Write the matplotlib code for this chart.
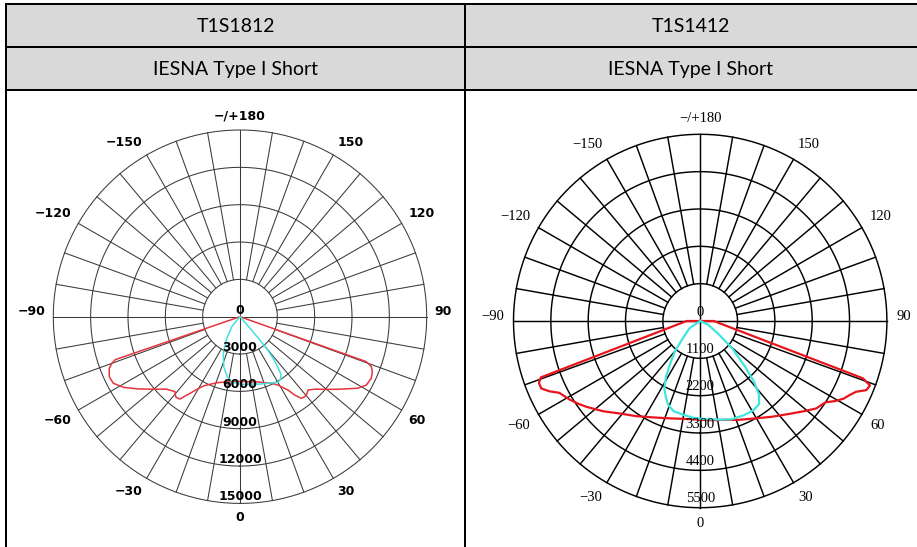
import numpy as np
import matplotlib
matplotlib.use("Agg")
import matplotlib.pyplot as plt
from matplotlib.patches import Rectangle
from matplotlib.lines import Line2D
from matplotlib.transforms import offset_copy

# ---------------- data ----------------
titles = ["T1S1812", "T1S1412"]
subtitles = ["IESNA Type I Short", "IESNA Type I Short"]

angle_ticks = [0, 30, 60, 90, 120, 150, 180, -150, -120, -90, -60, -30]
angle_labels = ["0", "30", "60", "90", "120", "150", "\u2212/+180",
                "\u2212150", "\u2212120", "\u221290", "\u221260", "\u221230"]

# chart 1 : T1S1812
rings1 = [3000, 6000, 9000, 12000, 15000]
red1_deg = [-90, -72, -71.0, -70.0, -68.5, -65.3, -62.3, -58.8, -54.5, -50.1, -45.5,
            -40.9, -39.5, -38.4, -36.1, -34.5, -33.1, -30.5, -27.9, -24, -19.4, -14,
            -8.7, 0, 5, 9.9, 15, 20.5, 25, 29.1, 31, 33.2, 34.9, 36.9, 38.5, 40.3,
            42.9, 46, 50, 53.5, 58.8, 61.6, 64.9, 67.4, 69.2, 70.4, 72, 90]
red1_val = [0, 0, 10600, 10950, 11290, 11560, 11500, 10960, 10000, 9085, 8300,
            7975, 8150, 8275, 8185, 7700, 7355, 6750, 6300, 5950, 5625, 5420,
            5285, 5200, 5230, 5300, 5420, 5665, 5900, 6285, 6630, 7040, 7675, 8200, 8260, 8245,
            8040, 8380, 9080, 9800, 11090, 11540, 11650, 11515, 11290, 10770, 0, 0]
cyan1_deg = [-90, -40, -31, -24.5, -18, -12, -7.3, 0, 5.6, 12.3, 16.5, 22.8, 27, 30,
             33, 35.5, 37, 38.5, 40, 40.5, 41, 90]
cyan1_val = [0, 1000, 2100, 3230, 4230, 4930, 5265, 5420, 5470, 5540, 5650, 5800, 5960, 6080,
             6000, 5650, 5000, 4300, 3300, 2200, 1000, 0]

# chart 2 : T1S1412
rings2 = [1100, 2200, 3300, 4400, 5500]
red2_deg = [-180, -90, -70.5, -69, -67, -65, -63, -61, -59, -56, -53, -47, -41, -34, -26,
            -17, -8, 0, 6, 13, 21, 30, 37, 44, 49, 53, 57, 59.3, 61.5, 63.6, 65.6, 67.4,
            69.2, 70.6, 90, 180]
red2_val = [0, 400, 4980, 5090, 5085, 4900, 4660, 4570, 4490, 4350, 4200, 3900, 3610, 3380, 3160,
            3000, 2915, 2910, 2940, 2990, 3120, 3310, 3530, 3800, 4050, 4280, 4400, 4620, 4800,
            4910, 5045, 5300, 5350, 5080, 400, 0]
cyan2_deg = [-90, -56, -45.5, -40, -35.5, -31.5, -28, -24.5, -21, -16.5, -11, -5, 0, 6, 12,
             17.3, 25, 31, 35.3, 38.5, 41.5, 44.5, 49.5, 55, 65, 90]
cyan2_val = [0, 380, 700, 1150, 1500, 1930, 2250, 2450, 2640, 2770, 2800, 2850, 2880, 2910, 2970,
             3035, 3060, 3060, 3000, 2790, 2400, 1890, 1240, 630, 250, 0]

# ---------------- figure ----------------
W, H = 917, 547
fig = plt.figure(figsize=(W / 100, H / 100), dpi=100)


def fx(x):
    return x / W


def fy(y):
    return 1 - y / H


# table
fig.patches.append(Rectangle((fx(6), fy(90)), fx(917) - fx(6), fy(4) - fy(90),
                             transform=fig.transFigure, facecolor="#d9d9d9",
                             edgecolor="none", zorder=0))
blw = 2.0 * 72 / 100
for yy in [4, 47, 90]:
    fig.lines.append(Line2D([fx(5), fx(917)], [fy(yy), fy(yy)], transform=fig.transFigure,
                            color="black", lw=blw, solid_capstyle="butt"))
for xx in [6, 465]:
    fig.lines.append(Line2D([fx(xx), fx(xx)], [fy(3), fy(547)], transform=fig.transFigure,
                            color="black", lw=blw, solid_capstyle="butt"))

hdr_font = dict(family="Lato", fontsize=14, color="black", ha="center", va="center")
for cx, t, s in zip([235.5, 691], titles, subtitles):
    fig.text(fx(cx), fy(26), t, **hdr_font)
    fig.text(fx(cx), fy(69), s, **hdr_font)

RPX = 186.7


def polar_chart(cx, cy, rings, red_deg, red_val, cyan_deg, cyan_val, st):
    rect = [fx(cx - RPX), fy(cy + RPX), 2 * RPX / W, 2 * RPX / H]
    ax = fig.add_axes(rect, projection="polar")
    ax.set_theta_zero_location("S")
    ax.set_theta_direction(1)
    rmax = rings[-1]
    ax.set_ylim(0, rmax)
    ax.grid(False)
    ax.set_xticks([])
    ax.set_yticks([])
    ax.spines["polar"].set_visible(False)
    ax.patch.set_alpha(0)
    circ = np.linspace(0, 2 * np.pi, 721)
    for r in rings:
        ax.plot(circ, np.full_like(circ, r), color=st["gc"], lw=st["glw"], clip_on=False, zorder=1)
    for a in range(0, 360, 10):
        r0 = 0 if a % 90 == 0 else rings[0]
        ax.plot([np.radians(a)] * 2, [r0, rmax], color=st["gc"], lw=st["glw"], clip_on=False, zorder=1)
    ax.plot(np.radians(red_deg), red_val, color=st["red"], lw=st["clw"], clip_on=False, zorder=3)
    ax.plot(np.radians(cyan_deg), cyan_val, color=st["cyan"], lw=st["clw"], clip_on=False, zorder=3)
    # angle labels: nearest corner of the text box sits on a circle outside the rim
    R0 = st["lr"] * RPX
    for a, lab in zip(angle_ticks, angle_labels):
        t = np.radians(a)
        s, c = np.sin(t), np.cos(t)
        if abs(s) < 1e-6:
            ha = "center"
        elif s > 0:
            ha = "left"
        else:
            ha = "right"
        dx = R0 * s
        dy = -R0 * c
        if abs(c) < 1e-6:
            va = "center"
            dy += 5
        elif c > 0:
            va = "top"
        else:
            va = "bottom"
        tr = offset_copy(ax.transData, fig=fig, x=dx, y=dy, units="dots")
        ax.text(0, 0, lab, transform=tr, ha=ha, va=va,
                fontsize=st["fs"], family=st["family"], fontweight=st["weight"], clip_on=False)
    tr = offset_copy(ax.transData, fig=fig, x=0, y=st["off"], units="dots")
    for v in [0] + rings:
        ax.text(0, v, f"{v}", transform=tr, ha="center", va="center",
                fontsize=st["rfs"], family=st["family"], fontweight=st["weight"], zorder=4)
    return ax


style1 = dict(gc="#3a3a3a", glw=0.75, red="#e6343c", cyan="#40e0e0", clw=1.1, lr=1.04,
              fs=9, rfs=9, family="DejaVu Sans", weight="bold", off=6.7)
style2 = dict(gc="black", glw=1.05, red="#e8141c", cyan="#3ee6e0", clw=1.6, lr=1.05,
              fs=10.5, rfs=10.5, family="Liberation Serif", weight="normal", off=9)

polar_chart(240, 316.7, rings1, red1_deg, red1_val, cyan1_deg, cyan1_val, style1)
polar_chart(700.2, 321, rings2, red2_deg, red2_val, cyan2_deg, cyan2_val, style2)

fig.savefig("out.png", dpi=100)
